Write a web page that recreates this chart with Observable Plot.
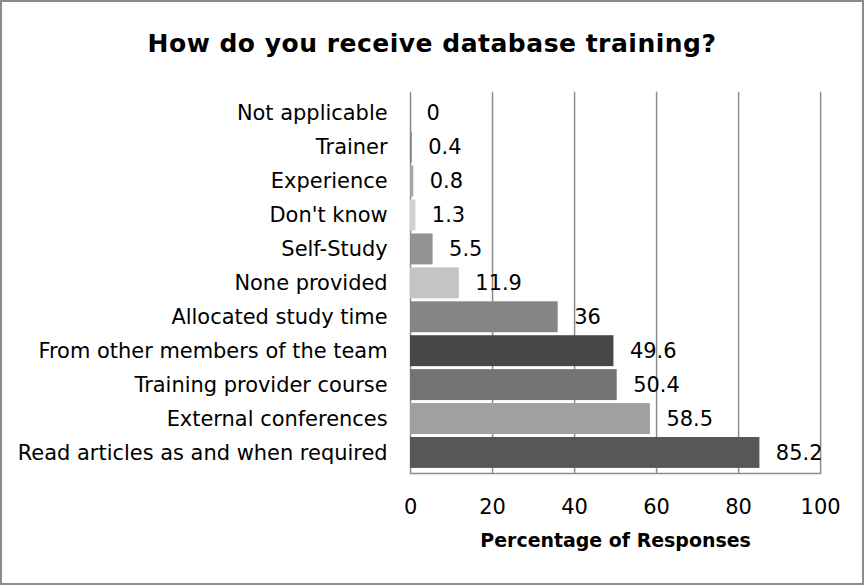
<!DOCTYPE html>
<html>
<head>
<meta charset="utf-8">
<script src="https://cdn.jsdelivr.net/npm/d3@7"></script>
<script src="https://cdn.jsdelivr.net/npm/@observablehq/plot@0.6"></script>
<style>
  html, body { margin: 0; padding: 0; background: #fff; }
  #frame {
    position: relative; width: 864px; height: 585px; box-sizing: border-box;
    border: 2px solid #8c8c8c; background: #fff; overflow: hidden;
    font-family: "DejaVu Sans", sans-serif;
  }
  #title {
    position: absolute; left: 0; top: 27px; width: 860px; text-align: center;
    font-size: 25px; font-weight: bold; color: #000; line-height: 30px; letter-spacing: 0.5px;
  }
  #chart { position: absolute; left: -2px; top: -2px; }
  g[aria-label="x-axis label"] text { font-weight: bold; font-size: 19px; }
</style>
</head>
<body>
<div id="frame">
  <div id="chart"></div>
  <div id="title">How do you receive database training?</div>
</div>
<script>
const categories = [
  "Not applicable",
  "Trainer",
  "Experience",
  "Don't know",
  "Self-Study",
  "None provided",
  "Allocated study time",
  "From other members of the team",
  "Training provider course",
  "External conferences",
  "Read articles as and when required"
];
const values = [0, 0.4, 0.8, 1.3, 5.5, 11.9, 36, 49.6, 50.4, 58.5, 85.2];
const valueLabels = ["0", "0.4", "0.8", "1.3", "5.5", "11.9", "36", "49.6", "50.4", "58.5", "85.2"];
const barColors = ["#595959", "#7f7f7f", "#a6a6a6", "#d0d0d0", "#939393", "#c4c4c4", "#858585", "#474747", "#737373", "#a0a0a0", "#575757"];
const xTicks = [0, 20, 40, 60, 80, 100];
const xTitle = "Percentage of Responses";

const data = categories.map((c, i) => ({category: c, value: values[i], label: valueLabels[i], color: barColors[i]}));

const chart = Plot.plot({
  width: 864,
  height: 585,
  marginTop: 92,
  marginBottom: 111,
  marginLeft: 411,
  marginRight: 42,
  style: {fontFamily: "DejaVu Sans, sans-serif", fontSize: "21px", color: "#000", background: "transparent", overflow: "visible"},
  x: {domain: [0, 100]},
  y: {domain: categories, padding: 0.1},
  marks: [
    Plot.ruleX(xTicks, {stroke: "#8c8c8c", strokeWidth: 1.5}),
    Plot.barX(data, {x: "value", y: "category", fill: "color"}),
    Plot.frame({anchor: "bottom", stroke: "#8c8c8c", strokeWidth: 1.5}),
    Plot.text(data, {x: "value", y: "category", text: "label", textAnchor: "start", dx: 16, fill: "#000", fontSize: 21}),
    Plot.axisY({tickSize: 0, tickPadding: 23, label: null, fontSize: 21}),
    Plot.axisX({ticks: xTicks, tickSize: 0, tickPadding: 26, fontSize: 21,
      label: xTitle, labelAnchor: "center", labelArrow: "none", labelOffset: 74})
  ]
});
document.getElementById("chart").appendChild(chart);
</script>
</body>
</html>
